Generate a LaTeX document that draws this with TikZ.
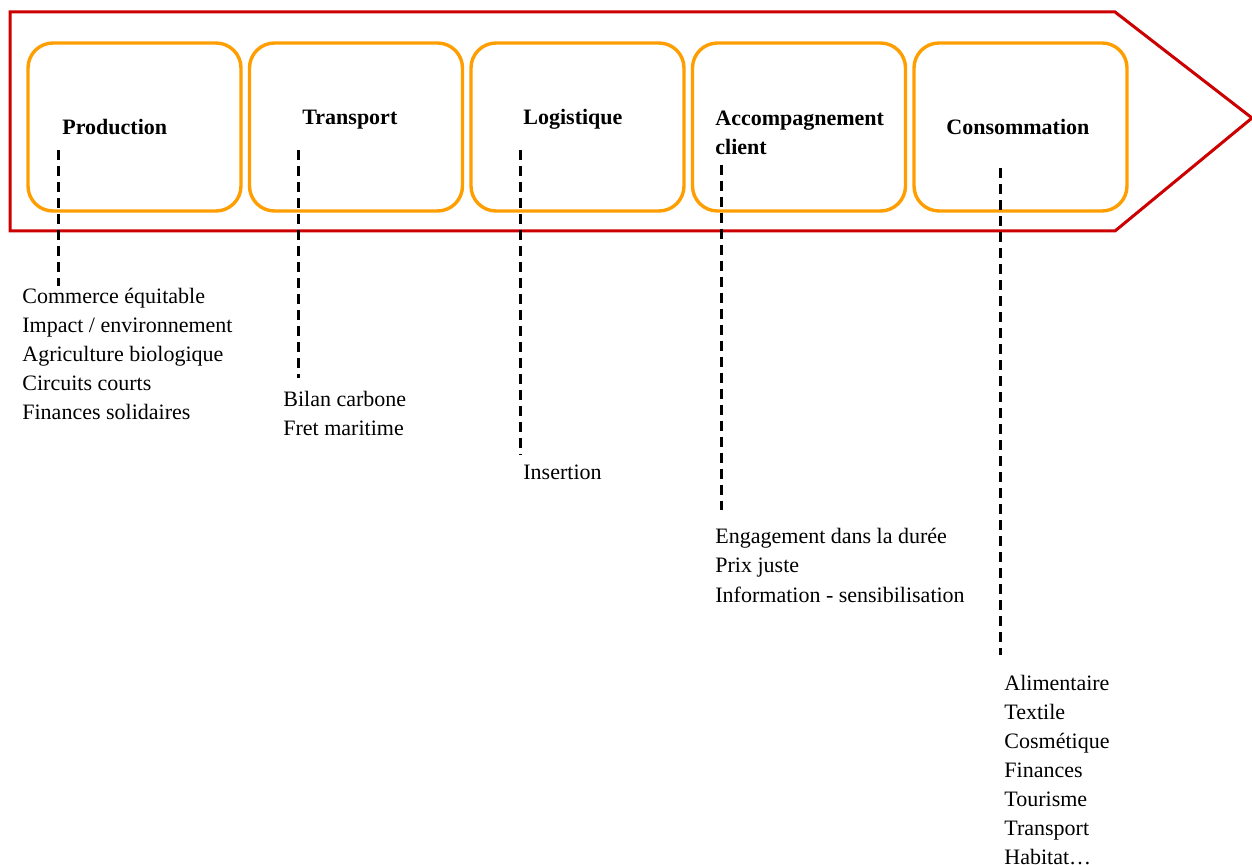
\documentclass[tikz,border=0pt]{standalone}
\usepackage{fontspec}
\setmainfont{Liberation Serif}
\usetikzlibrary{positioning}
\definecolor{chainred}{RGB}{204,0,0}
\definecolor{stageorange}{RGB}{255,158,0}
\tikzset{stage/.style={
                       % The shape:
                       rectangle,minimum width=106.5pt,minimum height=84pt,rounded corners=12.5pt,
                       % The rest
                       line width=1.7pt,draw=stageorange,
                       },
         stagename/.style={font=\bfseries\fontsize{11}{14.5}\selectfont,align=left,inner sep=0pt,anchor=base west},
         itemlist/.style={font=\fontsize{11}{14.5}\selectfont,align=left,inner sep=0pt,anchor=base west},
         link/.style={line width=1.5pt,dash pattern=on 5pt off 3pt}}

\begin{document}
\begin{tikzpicture}[x=0.5pt,y=-0.5pt]
  \useasboundingbox (0,0) rectangle (1252,865);
  % The red arrow:
  \draw[chainred,line width=1.5pt] (10,12) -- (1115,12) -- (1252,118) -- (1115,231) -- (10,231) -- cycle;
  % The five stages:
  \foreach \name [count=\i from 0] in {prod,trans,logi,accomp,conso}
    \node (\name) [stage] at (134.5+221.5*\i,127) {};
  % Their names (base = last line):
  \node (prodname) [stagename] at (62,135) {Production};
  \node (transname) [stagename] at (302,125) {Transport};
  \node (loginame) [stagename] at (523,125) {Logistique};
  \node (accompname) [stagename] at (715,155) {Accompagnement\\client};
  \node (consoname) [stagename] at (946,135) {Consommation};
  % What each stage is about:
  \node (prodlist) [itemlist] at (22,420) {Commerce équitable\\Impact / environnement\\Agriculture biologique\\Circuits courts\\Finances solidaires};
  \node (translist) [itemlist] at (283,436) {Bilan carbone\\Fret maritime};
  \node (logilist) [itemlist] at (523,480) {Insertion};
  \node (accomplist) [itemlist] at (715,602) {Engagement dans la durée\\Prix juste\\Information - sensibilisation};
  \node (consolist) [itemlist] at (1004,864) {Alimentaire\\Textile\\Cosmétique\\Finances\\Tourisme\\Transport\\Habitat\dots};
  % Dashed links:
  \coordinate (prodfrom) at (58,150);    \coordinate (prodto) at (58,286);
  \coordinate (transfrom) at (298,150);  \coordinate (transto) at (298,378);
  \coordinate (logifrom) at (520,150);   \coordinate (logito) at (520,455);
  \coordinate (accompfrom) at (721,165); \coordinate (accompto) at (721,510);
  \coordinate (consofrom) at (1000,168); \coordinate (consoto) at (1000,655);
  \foreach \name in {prod,trans,logi,accomp,conso}
    \draw[link] (\name from) -- (\name to);
\end{tikzpicture}
\end{document}
